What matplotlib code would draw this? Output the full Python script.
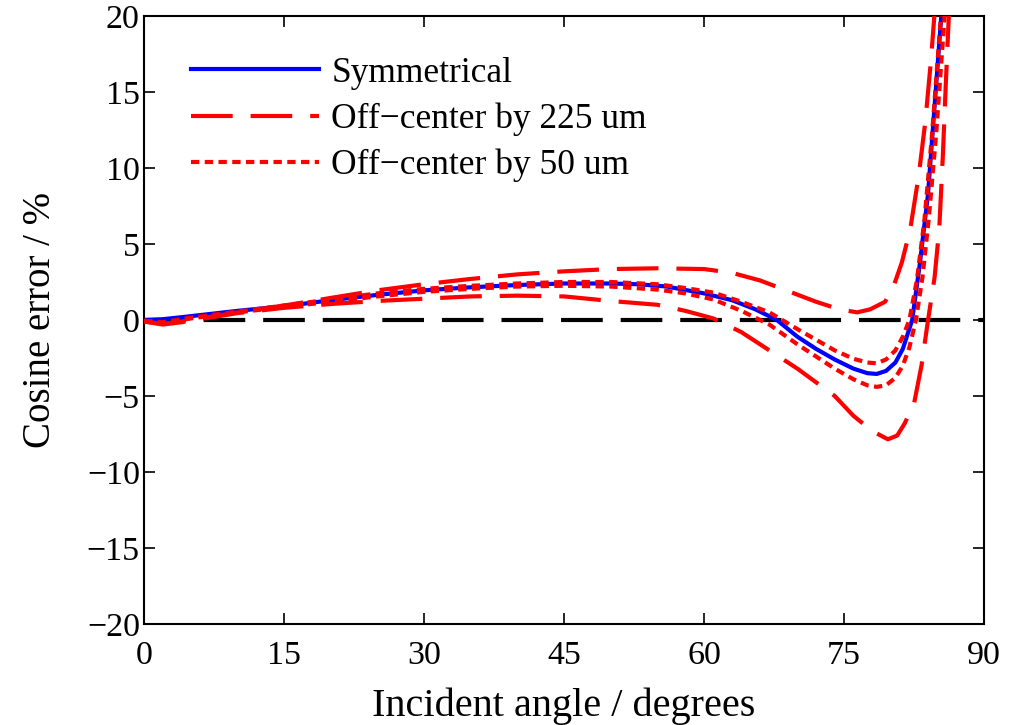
import matplotlib
matplotlib.use("Agg")
import matplotlib.pyplot as plt

plt.rcParams['font.family'] = ['Liberation Serif', 'DejaVu Serif']
plt.rcParams['axes.unicode_minus'] = True

# Symmetrical
ang_sym = [0, 2, 5, 10, 15, 20, 25, 30, 35, 40, 45, 50, 53, 56, 60, 63, 65.5,
           67.8, 70, 72, 74, 76, 77.5, 78.5, 79.5, 80.5, 81.3, 82.3, 83.1,
           84.0, 84.75, 85.6]
err_sym = [0, 0.05, 0.25, 0.6, 0.9, 1.3, 1.65, 1.95, 2.15, 2.3, 2.4, 2.4, 2.35,
           2.2, 1.75, 1.3, 0.7, 0.0, -1.1, -1.9, -2.6, -3.2, -3.5, -3.55,
           -3.35, -2.8, -1.9, 0.0, 3.6, 8.3, 14.5, 21.5]

# Off-center by 225 um (upper / lower bound)
ang_225_hi = [0, 2, 4, 7, 10, 15, 20, 25, 30, 35, 40, 45, 50, 55, 60, 63, 66,
              69, 72, 74.5, 76.4, 77.8, 79.4, 80.3, 81.2, 82.1, 83.0, 83.7,
              84.3, 84.8]
err_225_hi = [-0.1, -0.25, -0.1, 0.2, 0.5, 0.95, 1.45, 1.95, 2.35, 2.7, 3.0,
              3.2, 3.35, 3.4, 3.35, 3.1, 2.6, 1.9, 1.2, 0.7, 0.5, 0.7, 1.2,
              2.2, 3.8, 6.0, 9.5, 13.0, 17.0, 21.0]
ang_225_lo = [0, 2, 4, 7, 10, 15, 20, 25, 30, 35, 40, 45, 50, 55, 58, 61, 64,
              67, 70, 72, 74, 76, 78, 79.7, 80.7, 81.5, 82.5, 83.3, 84.0,
              84.7, 85.2, 85.6, 85.9, 86.3]
err_225_lo = [-0.1, -0.3, -0.15, 0.15, 0.45, 0.8, 1.05, 1.25, 1.4, 1.55, 1.6,
              1.55, 1.25, 1.0, 0.6, 0.1, -0.8, -2.0, -3.2, -4.1, -5.0, -6.3,
              -7.3, -7.85, -7.6, -6.8, -5.5, -3.0, 0.0, 2.8, 6.0, 11.0, 15.5,
              21.0]

# Off-center by 50 um (upper / lower bound)
ang_50_hi = [0, 2, 5, 10, 15, 20, 25, 30, 35, 40, 45, 50, 55, 58, 61, 64, 67,
             70, 72, 74, 76, 77.5, 78.5, 79.5, 80.5, 81.3, 82.0, 82.8, 83.6,
             84.4, 85.2, 85.5]
err_50_hi = [-0.05, -0.15, 0.15, 0.55, 0.95, 1.35, 1.75, 2.05, 2.25, 2.4, 2.5,
             2.5, 2.35, 2.1, 1.8, 1.2, 0.5, -0.6, -1.3, -2.0, -2.55, -2.8,
             -2.85, -2.6, -2.0, -1.1, 0.0, 2.6, 6.5, 12.0, 18.5, 21.0]
ang_50_lo = [0, 2, 5, 10, 15, 20, 25, 30, 35, 40, 45, 50, 55, 58, 61, 64, 67,
             70, 72, 74, 76, 77.5, 78.5, 79.5, 80.5, 81.3, 82.0, 82.7, 83.4,
             84.1, 84.9, 85.6, 85.9]
err_50_lo = [-0.05, -0.2, 0.1, 0.5, 0.85, 1.2, 1.55, 1.85, 2.05, 2.2, 2.25,
             2.2, 2.0, 1.75, 1.35, 0.6, -0.3, -1.6, -2.4, -3.2, -3.9, -4.3,
             -4.4, -4.3, -3.8, -3.0, -1.8, 0.0, 2.8, 6.8, 12.5, 18.5, 21.0]

x_ticks = [0, 15, 30, 45, 60, 75, 90]
y_ticks = [-20, -15, -10, -5, 0, 5, 10, 15, 20]

fig = plt.figure(figsize=(10.17, 7.25), dpi=100)
ax = fig.add_axes([0.1416, 0.1393, 0.826, 0.8387])

long_dash = (10, 4.3)
short_dot = (2, 1.3)

ax.axhline(0, color='black', lw=3, dashes=long_dash, zorder=1)
ax.plot(ang_sym, err_sym, color='blue', lw=3, label='Symmetrical', zorder=2)
ax.plot(ang_225_hi, err_225_hi, color='red', lw=3, dashes=long_dash,
        label='Off\u2212center by 225 um', zorder=3)
ax.plot(ang_225_lo, err_225_lo, color='red', lw=3, dashes=long_dash, zorder=3)
ax.plot(ang_50_hi, err_50_hi, color='red', lw=3, dashes=short_dot,
        label='Off\u2212center by 50 um', zorder=3)
ax.plot(ang_50_lo, err_50_lo, color='red', lw=3, dashes=short_dot, zorder=3)

ax.set_xlim(0, 90)
ax.set_ylim(-20, 20)
ax.set_xticks(x_ticks)
ax.set_yticks(y_ticks)
ax.tick_params(direction='in', top=True, right=True, length=8, width=1.2,
               labelsize=24.5)
ax.tick_params(axis='x', pad=12)
ax.tick_params(axis='y', pad=3)
for s in ax.spines.values():
    s.set_linewidth(1.5)

ax.set_xlabel('Incident angle / degrees', fontsize=29, labelpad=12)
ax.set_ylabel('Cosine error / %', fontsize=28, labelpad=20)

ax.legend(loc='upper left', bbox_to_anchor=(0.035, 0.962), frameon=False,
          fontsize=25.5, handlelength=3.6, handletextpad=0.36, borderpad=0,
          labelspacing=0.36)

fig.savefig('out.png', dpi=100)
